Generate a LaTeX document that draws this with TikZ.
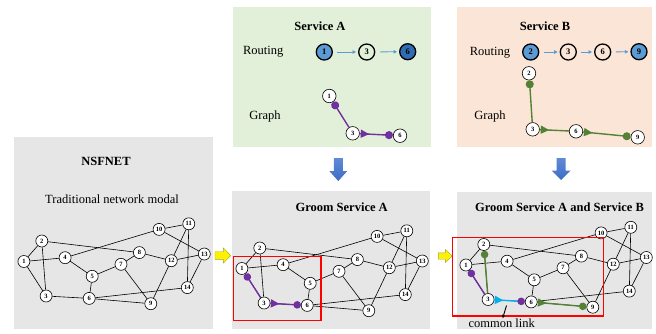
\documentclass[tikz,border=0pt]{standalone}
\usepackage{fontspec}
\setmainfont{Liberation Serif}
\usetikzlibrary{arrows.meta,calc,decorations.markings}
\definecolor{panelgray}{HTML}{E7E6E6}
\definecolor{panelgreen}{HTML}{E2F0D9}
\definecolor{panelpeach}{HTML}{FBE5D6}
\definecolor{pur}{HTML}{7030A0}
\definecolor{grn}{HTML}{548235}
\definecolor{cyn}{HTML}{00B0F0}
\definecolor{lblue}{HTML}{5B9BD5}
\definecolor{dblue}{HTML}{2E6DB4}
\definecolor{arrtop}{HTML}{5E8BD8}
\definecolor{arrbot}{HTML}{3D6CC4}
\definecolor{yelborder}{HTML}{A6A62E}

\newcommand\netgraph[3]{%
  \begin{scope}[shift={(#2,#3)}]
    \foreach \n/\px/\py in {1/23.9/261.5, 2/41.8/241, 3/46.1/296, 4/65.1/257.7,
      5/92.2/276.3, 6/89.2/298.4, 7/121/264.3, 8/139.4/252.6, 9/150.8/303.7,
      10/159.1/229.4, 11/188.8/223.8, 12/171.3/260.7, 13/204.3/254, 14/187.3/287.6}
      \node[netnode] (#1-\n) at (\px,\py) {\n};
  \end{scope}
  \foreach \a/\b in {1/2, 1/3, 1/4, 2/3, 2/8, 4/10, 4/5, 5/7, 5/6, 3/6, 6/9, 6/14,
      7/8, 7/9, 8/12, 9/12, 10/11, 10/13, 11/12, 11/14, 12/13, 13/14}
    \draw[link] (#1-\a) -- (#1-\b);
}

\begin{document}
\begin{tikzpicture}[x=1pt,y=-1pt,
  netnode/.style={circle,draw,fill=white,line width=0.6pt,minimum size=12pt,inner sep=0pt,
    font=\fontsize{6.5}{6.5}\selectfont\bfseries},
  gnode/.style={netnode,minimum size=13.5pt},
  rnode/.style={circle,draw,line width=1.3pt,minimum size=16pt,inner sep=0pt,
    font=\fontsize{8.5}{8.5}\selectfont\bfseries},
  link/.style={line width=0.6pt},
  ttl/.style={font=\fontsize{12.5}{14}\selectfont\bfseries},
  lbl/.style={font=\fontsize{12.5}{14}\selectfont},
  rarrow/.style={lblue,line width=0.8pt,-{Triangle[length=3.5pt,width=3.5pt]},shorten <=4.5pt,shorten >=2pt},
  svcpath/.style={line width=1.4pt},
  tri/.style={postaction={decorate,decoration={markings,
      mark=at position #1 with {\arrow{Triangle[length=8.5pt,width=8pt]}}}}},
  tri/.default=9.5pt,
  redbox/.style={draw=red,line width=1.4pt},
  yarrow/.style={fill=yellow,draw=yelborder,line width=0.4pt},
  barrow/.style={top color=arrtop,bottom color=arrbot,draw=none},
]
\useasboundingbox (0,0) rectangle (656,333);

% panels
\fill[panelgray] (14,137) rectangle (213,329);
\fill[panelgreen] (233,7) rectangle (431,147);
\fill[panelpeach] (457,7) rectangle (652,147);
\fill[panelgray] (232,191) rectangle (430,329);
\fill[panelgray] (457,192) rectangle (652,329);

% NSFNET panel
\node[ttl] (tn) at (106,161) {NSFNET};
\node[lbl] (tt) at (112,199) {Traditional network modal};
\netgraph{ns}{0}{0}

% Service A
\node[ttl] (tsa) at (320,26) {Service A};
\node[lbl] (rtA) at (263.3,51.7) {Routing};
\node[lbl] (grA) at (265,116) {Graph};
\node[rnode,fill=lblue] (ra1) at (324.3,52) {1};
\node[rnode] (ra3) at (366.7,52) {3};
\node[rnode,fill=dblue] (ra6) at (407.7,51.7) {6};
\draw[rarrow] (ra1) -- (ra3);
\draw[rarrow] (ra3) -- (ra6);
\node[gnode] (sa1) at (329.3,96) {1};
\node[gnode] (sa3) at (352.7,133.3) {3};
\node[gnode] (sa6) at (400,135.7) {6};
\draw[pur,svcpath,{Circle[length=8pt]}-] (sa1) -- (sa3);
\draw[pur,svcpath,tri,-{Circle[length=8pt]}] (sa3) -- (sa6);

% Service B
\node[ttl] (tsb) at (545,26) {Service B};
\node[lbl] (rtB) at (490,52.3) {Routing};
\node[lbl] (grB) at (490,116.7) {Graph};
\node[rnode,fill=lblue] (rb2) at (530.7,52) {2};
\node[rnode] (rb3) at (568.3,52) {3};
\node[rnode] (rb6) at (602.7,52) {6};
\node[rnode,fill=lblue] (rb9) at (639,51.7) {9};
\draw[rarrow] (rb2) -- (rb3);
\draw[rarrow] (rb3) -- (rb6);
\draw[rarrow] (rb6) -- (rb9);
\node[gnode] (sb2) at (529,73.3) {2};
\node[gnode] (sb3) at (532.7,129.3) {3};
\node[gnode] (sb6) at (576,131.3) {6};
\node[gnode] (sb9) at (637.7,137.3) {9};
\draw[grn,svcpath,{Circle[length=8pt]}-] (sb2) -- (sb3);
\draw[grn,svcpath,tri] (sb3) -- (sb6);
\draw[grn,svcpath,tri,-{Circle[length=8pt]}] (sb6) -- (sb9);

% blue down arrows
\shade[barrow] (333.8,158) -- (342.8,158) -- (342.8,171) -- (347.3,171) -- (338.3,181)
  -- (329.3,171) -- (333.8,171) -- cycle;
\shade[barrow] (556.5,158) -- (565.5,158) -- (565.5,170.5) -- (570.5,170.5) -- (561,180)
  -- (551.5,170.5) -- (556.5,170.5) -- cycle;

% yellow arrows
\filldraw[yarrow] (215,251.7) -- (223.3,251.7) -- (223.3,247.9) -- (230.7,255.5)
  -- (223.3,263.1) -- (223.3,259.3) -- (215,259.3) -- cycle;
\filldraw[yarrow] (438.3,252.8) -- (445.3,252.8) -- (445.3,249.5) -- (452.3,256)
  -- (445.3,262.5) -- (445.3,259.2) -- (438.3,259.2) -- cycle;

% Groom Service A
\node[ttl] (tga) at (341.7,207.3) {Groom Service A};
\netgraph{ga}{218}{7}
\draw[pur,svcpath,{Circle[length=7.5pt]}-] (ga-1) -- (ga-3);
\draw[pur,svcpath,tri=9pt,-{Circle[length=7.5pt]}] (ga-3) -- (ga-6);
\draw[redbox] (233.3,256.7) rectangle (321,320.7);

% Groom Service A and Service B
\node[ttl] (tgb) at (559.5,207.3) {Groom Service A and Service B};
\netgraph{gb}{442}{3.5}
\draw[pur,svcpath,{Circle[length=7.5pt]}-] (gb-1) -- (gb-3);
\draw[grn,svcpath,{Circle[length=7.5pt]}-] (gb-2) -- (gb-3);
\draw[cyn,svcpath,tri=9pt,-{Circle[length=7.5pt,color=pur]}] (gb-3) -- (gb-6);
\draw[grn,svcpath,tri=9pt,-{Circle[length=7.5pt]}] (gb-6) -- (gb-9);
\draw[redbox] (452.3,237.3) rectangle (603.3,316);
\node[lbl,inner sep=0pt] (cl) at (501.7,322.8) {common link};
\coordinate (clstart) at (506.5,305.5);
\draw[line width=0.9pt,-{Stealth[length=3.5pt,width=3.2pt]}] (clstart) -- ([xshift=1pt]cl.north);
\end{tikzpicture}
\end{document}
